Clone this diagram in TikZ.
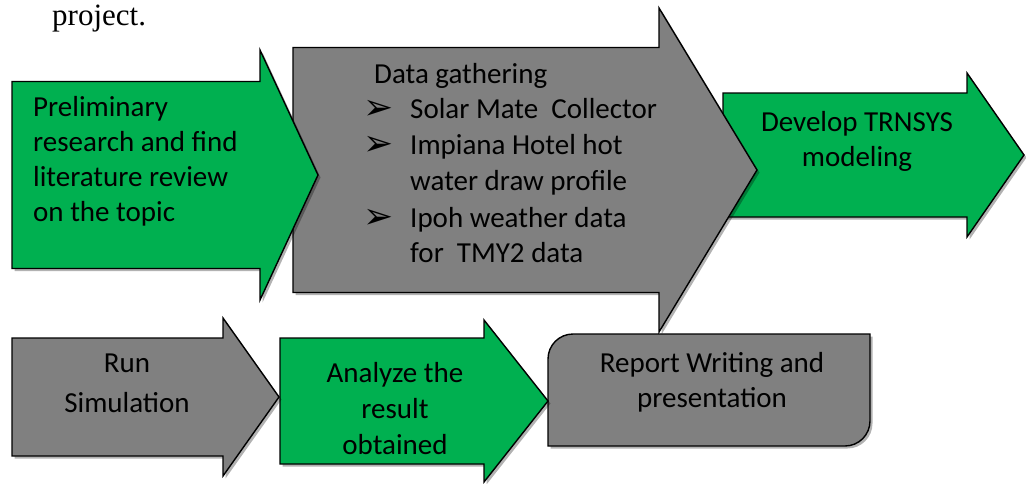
\documentclass[tikz,border=0pt]{standalone}
\usepackage{fontspec}
\setmainfont{Carlito}
\newfontfamily\docfont{Liberation Serif}
\newfontfamily\dingfont{DejaVu Sans}
\usetikzlibrary{shadows,positioning}

\definecolor{stepgreen}{RGB}{0,176,80}
\definecolor{stepgray}{RGB}{128,128,128}

\tikzset{
  shape base/.style={draw=black,line width=1.4pt,line join=miter,
    drop shadow={shadow xshift=2.5pt,shadow yshift=-2.5pt,fill=black,opacity=.3}},
  greenshape/.style={shape base,fill=stepgreen},
  grayshape/.style={shape base,fill=stepgray},
  label/.style={font=\fontsize{29}{35}\selectfont,inner sep=0pt},
  leftlabel/.style={label,anchor=base west,align=left},
  midlabel/.style={label,anchor=base,align=center}
}

% #1 style, #2 tail x, #3 head base x, #4 tip x, #5 centre y, #6 half body, #7 half head
\newcommand{\flowarrow}[7]{
  \draw[#1] (#2,{#5-#6}) -- (#3,{#5-#6}) -- (#3,{#5-#7}) -- (#4,#5)
    -- (#3,{#5+#7}) -- (#3,{#5+#6}) -- (#2,{#5+#6}) -- cycle;
}
\newcommand{\bul}{\makebox[47pt][l]{\raisebox{-1pt}{\dingfont\fontsize{36}{35}\selectfont ➢}}}

\begin{document}
\begin{tikzpicture}[x=1pt,y=-1pt]
\useasboundingbox (0,0) rectangle (1026,483);

\node[anchor=base west,inner sep=0pt,font=\docfont\fontsize{31}{36}\selectfont] (project) at (52,25) {project.};

\flowarrow{greenshape}{723}{967}{1024}{155}{62}{82}
\flowarrow{grayshape}{293}{659}{757}{170}{122.5}{162}
\flowarrow{greenshape}{12}{260}{318}{175}{93.5}{125}

\draw[grayshape] (548,446) -- (548,359) .. controls (548,345.2) and (559.2,334) .. (573,334)
  -- (870,334) -- (870,421) .. controls (870,434.8) and (858.8,446) .. (845,446) -- cycle;
\flowarrow{greenshape}{280}{484}{548}{401}{63}{81}
\flowarrow{grayshape}{12}{223}{279}{397}{59}{79}

% multi-line labels sit on the baseline of their last line
\node[leftlabel] (prelim) at (33,221) {Preliminary\\research and find\\literature review\\on the topic};

\node[leftlabel] (gather) at (374,83) {Data gathering};
\node[leftlabel] (solar) at (363,118) {\bul Solar Mate\ \ Collector};
\node[leftlabel] (hotel) at (363,154) {\bul Impiana Hotel hot};
\node[leftlabel] (profile) at (410,190) {water draw profile};
\node[leftlabel] (ipoh) at (363,227) {\bul Ipoh weather data};
\node[leftlabel] (tmy) at (410,262) {for\ \ TMY2 data};

\node[midlabel] (trnsys) at (857,166) {Develop TRNSYS\\modeling};
\node[midlabel] (run) at (127,412) {Run\\[5pt]Simulation};
\node[midlabel,font=\fontsize{29}{36}\selectfont] (analyze) at (395,454) {Analyze the\\result\\obtained};
\node[midlabel] (report) at (712,407) {Report Writing and\\presentation};
\end{tikzpicture}
\end{document}
